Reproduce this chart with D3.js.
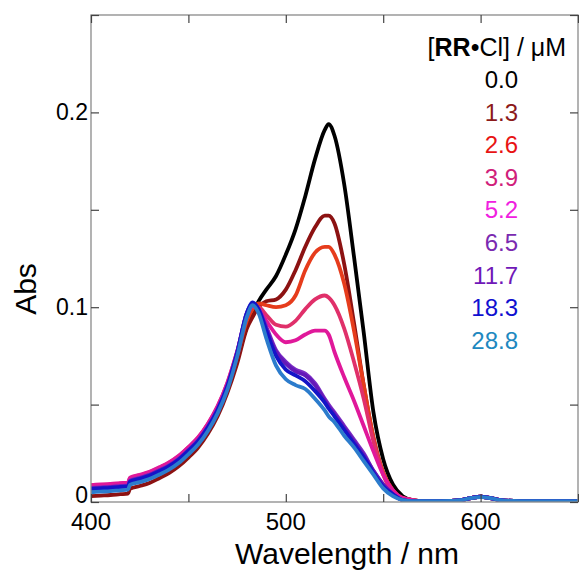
<!DOCTYPE html>
<html>
<head>
<meta charset="utf-8">
<script src="https://cdn.jsdelivr.net/npm/d3@7"></script>
<style>
  html, body { margin: 0; padding: 0; background: #fff; }
  svg { display: block; font-family: "Liberation Sans", Arial, sans-serif; }
</style>
</head>
<body>
<svg id="chart" width="579" height="577"></svg>
<script>
// ---------------- data ----------------
const wavelengths = [400,405,410,415,419,420,425,430,435,440,445,450,455,460,465,470,475,480,483,486,490,495,500,505,510,515,520,522,525,530,535,540,545,550,555,560,565,570,580,590,595,600,605,610,620,630,640,650];

const concentrations = ["0.0","1.3","2.6","3.9","5.2","6.5","11.7","18.3","28.8"];

const abs00  = [0.006,0.0063,0.0066,0.007,0.0073,0.0098,0.0112,0.0128,0.015,0.0175,0.0208,0.025,0.030,0.037,0.046,0.058,0.073,0.090,0.097,0.103,0.109,0.116,0.127,0.140,0.157,0.176,0.191,0.194,0.188,0.163,0.126,0.087,0.046,0.022,0.009,0.003,0.001,0.0005,0.0005,0.001,0.002,0.0027,0.002,0.001,0.0005,0.0005,0.0005,0.0005];
const abs13  = [0.003,0.0033,0.0036,0.004,0.0043,0.0068,0.0082,0.0098,0.0122,0.0148,0.0183,0.0228,0.028,0.035,0.044,0.056,0.071,0.089,0.095,0.100,0.103,0.104,0.109,0.119,0.131,0.141,0.147,0.147,0.143,0.122,0.092,0.060,0.033,0.015,0.006,0.002,0.001,0.0005,0.0005,0.001,0.002,0.0027,0.002,0.001,0.0005,0.0005,0.0005,0.0005];
const abs26  = [0.0065,0.0068,0.0071,0.0075,0.0078,0.0103,0.0117,0.0133,0.0156,0.0181,0.0215,0.026,0.031,0.038,0.047,0.059,0.075,0.093,0.099,0.102,0.101,0.100,0.101,0.106,0.119,0.128,0.131,0.131,0.127,0.112,0.088,0.060,0.033,0.015,0.006,0.002,0.001,0.0005,0.0005,0.001,0.002,0.0027,0.002,0.001,0.0005,0.0005,0.0005,0.0005];
const abs39  = [0.0085,0.0088,0.0091,0.0095,0.0098,0.0123,0.0137,0.0153,0.0176,0.0201,0.0235,0.028,0.033,0.040,0.049,0.061,0.077,0.095,0.100,0.100,0.096,0.091,0.090,0.093,0.099,0.104,0.106,0.105,0.101,0.089,0.072,0.053,0.031,0.014,0.005,0.002,0.001,0.0005,0.0005,0.001,0.002,0.0027,0.002,0.001,0.0005,0.0005,0.0005,0.0005];
const abs52  = [0.0087,0.009,0.0093,0.0097,0.01,0.0125,0.0139,0.0155,0.0178,0.0203,0.0237,0.0282,0.0332,0.0402,0.0492,0.0612,0.0772,0.096,0.101,0.099,0.093,0.086,0.082,0.083,0.086,0.088,0.088,0.086,0.077,0.064,0.052,0.039,0.026,0.014,0.006,0.002,0.001,0.0005,0.0005,0.001,0.002,0.0027,0.002,0.001,0.0005,0.0005,0.0005,0.0005];
const abs65  = [0.0072,0.0075,0.0078,0.0082,0.0085,0.011,0.0124,0.014,0.0163,0.0188,0.0222,0.0267,0.0317,0.0387,0.0477,0.0597,0.0767,0.097,0.102,0.099,0.090,0.078,0.072,0.068,0.066,0.061,0.053,0.050,0.046,0.039,0.032,0.025,0.016,0.009,0.004,0.001,0.0005,0.0005,0.0005,0.001,0.002,0.0027,0.002,0.001,0.0005,0.0005,0.0005,0.0005];
const abs117 = [0.007,0.0073,0.0076,0.008,0.0083,0.0108,0.0122,0.0138,0.0161,0.0186,0.022,0.0265,0.0315,0.0385,0.0475,0.0595,0.0765,0.097,0.102,0.099,0.089,0.077,0.071,0.067,0.065,0.060,0.052,0.049,0.045,0.038,0.031,0.024,0.016,0.009,0.004,0.001,0.0005,0.0005,0.0005,0.001,0.002,0.0027,0.002,0.001,0.0005,0.0005,0.0005,0.0005];
const abs183 = [0.0067,0.007,0.0073,0.0077,0.008,0.0105,0.0119,0.0135,0.0158,0.0183,0.0217,0.0262,0.0312,0.0382,0.0472,0.0592,0.0762,0.097,0.1025,0.099,0.088,0.075,0.068,0.065,0.062,0.057,0.051,0.048,0.044,0.037,0.030,0.023,0.015,0.008,0.004,0.001,0.0005,0.0005,0.0005,0.001,0.002,0.0027,0.002,0.001,0.0005,0.0005,0.0005,0.0005];
const abs288 = [0.005,0.0053,0.0056,0.006,0.0063,0.0088,0.0102,0.0118,0.0141,0.0166,0.02,0.0245,0.0295,0.0365,0.0455,0.0575,0.0745,0.095,0.101,0.097,0.084,0.070,0.063,0.060,0.058,0.053,0.047,0.044,0.041,0.034,0.028,0.021,0.014,0.007,0.003,0.001,0.0005,0.0005,0.0005,0.001,0.002,0.0025,0.002,0.001,0.0005,0.0005,0.0005,0.0005];

const seriesValues = [abs00, abs13, abs26, abs39, abs52, abs65, abs117, abs183, abs288];
const lineColors  = ["#000000","#8c1212","#e63c1c","#e0306a","#e0189a","#7a2cc4","#6418b8","#1414c8","#2c7ccc"];
const labelColors = ["#000000","#8c1a1a","#e81414","#d0207a","#f020e0","#7a2ab0","#7018b8","#1010d0","#2088c0"];

const xTicksLabeled = [400, 500, 600];
const xTicksAll = [400, 450, 500, 550, 600, 650];
const yTicksLabeled = [0, 0.1, 0.2];
const yTicksAll = [0, 0.05, 0.1, 0.15, 0.2, 0.25];

// ---------------- layout ----------------
const svg = d3.select("#chart");
const L = 91, R = 578, T = 15, B = 502;
const x = d3.scaleLinear().domain([400, 650]).range([L, R]);
const y = d3.scaleLinear().domain([0, 0.25]).range([B, T]);

svg.append("defs").append("clipPath").attr("id", "clip")
  .append("rect").attr("x", L).attr("y", T - 2).attr("width", R - L).attr("height", B - T + 2);

const line = d3.line()
  .x((d, i) => x(wavelengths[i]))
  .y(d => y(d))
  .curve(d3.curveMonotoneX);

const g = svg.append("g").attr("clip-path", "url(#clip)");
seriesValues.forEach((vals, k) => {
  g.append("path")
    .attr("d", line(vals))
    .attr("fill", "none")
    .attr("stroke", lineColors[k])
    .attr("stroke-width", 3.8)
    .attr("stroke-linejoin", "round")
    .attr("stroke-linecap", "round");
});

// frame
svg.append("rect").attr("x", L).attr("y", T).attr("width", R - L).attr("height", B - T)
  .attr("fill", "none").attr("stroke", "#8a8a8a").attr("stroke-width", 1.3);

// inward ticks on all four sides
const tickLen = 8;
const xb = svg.append("g").attr("transform", `translate(0,${B})`)
  .call(d3.axisBottom(x).tickValues(xTicksAll).tickSize(-tickLen).tickFormat(""));
const xt = svg.append("g").attr("transform", `translate(0,${T})`)
  .call(d3.axisTop(x).tickValues(xTicksAll).tickSize(-tickLen).tickFormat(""));
const yl = svg.append("g").attr("transform", `translate(${L},0)`)
  .call(d3.axisLeft(y).tickValues(yTicksAll).tickSize(-tickLen).tickFormat(""));
const yr = svg.append("g").attr("transform", `translate(${R},0)`)
  .call(d3.axisRight(y).tickValues(yTicksAll).tickSize(-tickLen).tickFormat(""));
[xb, xt, yl, yr].forEach(a => {
  a.select(".domain").remove();
  a.selectAll(".tick line").attr("stroke", "#444").attr("stroke-width", 1.2);
});

// tick labels
svg.append("g").selectAll("text").data(xTicksLabeled).join("text")
  .attr("x", d => x(d)).attr("y", B + 28)
  .attr("text-anchor", "middle").attr("font-size", 24).attr("fill", "#000")
  .text(d => d3.format("d")(d));
svg.append("g").selectAll("text").data(yTicksLabeled).join("text")
  .attr("x", L - 3).attr("y", d => d === 0 ? y(d) + 1 : y(d) + 8)
  .attr("text-anchor", "end").attr("font-size", 23).attr("fill", "#000")
  .text(d => d === 0 ? "0" : d3.format(".1f")(d));

// axis titles
svg.append("text").attr("x", 347).attr("y", 564)
  .attr("text-anchor", "middle").attr("font-size", 30).attr("fill", "#000")
  .text("Wavelength / nm");
svg.append("text").attr("transform", "translate(36,289) rotate(-90)")
  .attr("text-anchor", "middle").attr("font-size", 30).attr("fill", "#000")
  .text("Abs");

// legend
const lt = svg.append("text").attr("x", 566).attr("y", 56)
  .attr("text-anchor", "end").attr("font-size", 25).attr("fill", "#000");
lt.append("tspan").text("[");
lt.append("tspan").attr("font-weight", "bold").text("RR");
lt.append("tspan").text("•Cl] / μM");

svg.append("g").selectAll("text").data(concentrations).join("text")
  .attr("x", 518).attr("y", (d, i) => 88 + i * 32.6)
  .attr("text-anchor", "end").attr("font-size", 24)
  .attr("fill", (d, i) => labelColors[i])
  .text(d => d);
</script>
</body>
</html>
